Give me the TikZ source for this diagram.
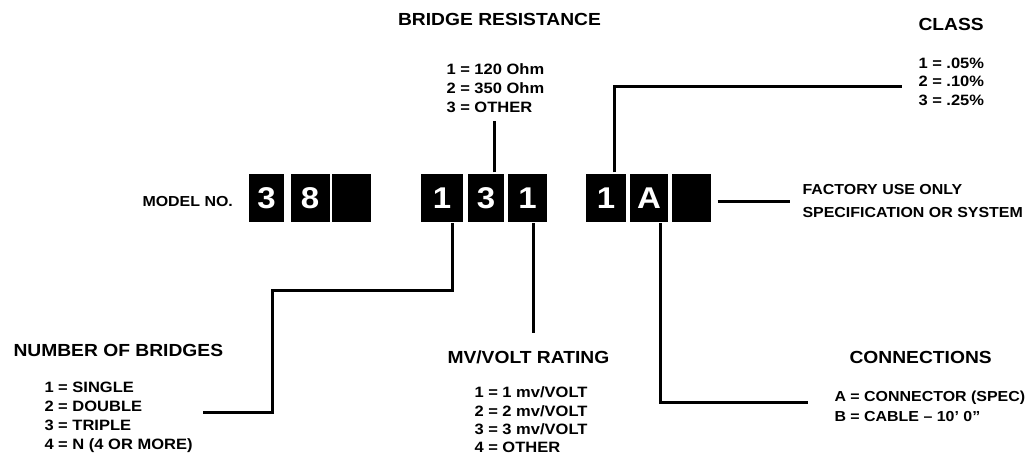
\documentclass[tikz,border=0pt]{standalone}
\usepackage{fontspec}
\newfontfamily\lsb[FakeStretch=1.1]{Liberation Sans}
\begin{document}
\begin{tikzpicture}[x=1pt,y=-1pt, line width=3pt,
  digit/.style={fill=black,text=white,minimum height=48pt,inner sep=0pt,font=\lsb\bfseries\fontsize{30}{30}\selectfont},
  title/.style={anchor=west,inner sep=0pt,font=\lsb\bfseries\fontsize{17.5}{20}\selectfont},
  item/.style={anchor=north west,inner sep=0pt,align=left,font=\lsb\bfseries\fontsize{15}{19}\selectfont},
  lbl/.style={anchor=west,inner sep=0pt,align=left,font=\lsb\bfseries\fontsize{14.5}{23}\selectfont}]
\fill[white] (0,0) rectangle (1030,454);
\useasboundingbox (0,0) rectangle (1030,454);
% code boxes
\node[digit,minimum width=35pt] (b1) at (266.5,198) {3};
\node[digit,minimum width=39pt] (b2) at (310,198) {8};
\node[digit,minimum width=39pt] (b3) at (351.5,198) {};
\node[digit,minimum width=42pt] (b4) at (442,198) {1};
\node[digit,minimum width=36pt] (b5) at (486,198) {3};
\node[digit,minimum width=39pt] (b6) at (527.5,198) {1};
\node[digit,minimum width=40pt] (b7) at (606,198) {1};
\node[digit,minimum width=38pt] (b8) at (649,198) {A};
\node[digit,minimum width=39pt] (b9) at (691.5,198) {};
% connectors
\coordinate (brT) at (494,121);
\draw (b5.north -| brT) -- (brT);
\coordinate (clA) at (614,87); \coordinate (clB) at (902,87);
\draw (b7.north -| clA) -- (clA) -- (clB);
\coordinate (nbA) at (452,290); \coordinate (nbB) at (272,290);
\coordinate (nbC) at (272,412); \coordinate (nbD) at (203,412);
\draw (b4.south -| nbA) -- (nbA) -- (nbB) -- (nbC) -- (nbD);
\coordinate (mvB) at (533,333);
\draw (b6.south -| mvB) -- (mvB);
\coordinate (coA) at (660,402); \coordinate (coB) at (808,402);
\draw (b8.south -| coA) -- (coA) -- (coB);
\coordinate (faB) at (790,202);
\draw[shorten <=5pt] (b9.east |- faB) -- (faB);
% texts
\node[title,anchor=center] (brt) at (499.5,19) {BRIDGE RESISTANCE};
\node[item] (bri) at (445,62.5) {1 = 120 Ohm\\2 = 350 Ohm\\3 = OTHER};
\node[title] (clt) at (917,24) {CLASS};
\node[item,font=\lsb\bfseries\fontsize{15}{18.5}\selectfont] (cli) at (917,56.5) {1 = .05\%\\2 = .10\%\\3 = .25\%};
\node[title] (nbt) at (12,350) {NUMBER OF BRIDGES};
\node[item] (nbi) at (43,380.5) {1 = SINGLE\\2 = DOUBLE\\3 = TRIPLE\\4 = N (4 OR MORE)};
\node[title] (mvt) at (446,357) {MV/VOLT RATING};
\node[item,font=\lsb\bfseries\fontsize{15}{18.2}\selectfont] (mvi) at (473,385.5) {1 = 1 mv/VOLT\\2 = 2 mv/VOLT\\3 = 3 mv/VOLT\\4 = OTHER};
\node[title] (cot) at (848,357) {CONNECTIONS};
\node[item,font=\lsb\bfseries\fontsize{14.5}{20}\selectfont] (coi) at (833,389.5) {A = CONNECTOR (SPEC)\\B = CABLE – 10’ 0”};
\node[lbl] (mdl) at (141,202) {MODEL NO.};
\node[lbl] (fac) at (801,201) {FACTORY USE ONLY\\SPECIFICATION OR SYSTEM};
\end{tikzpicture}
\end{document}
